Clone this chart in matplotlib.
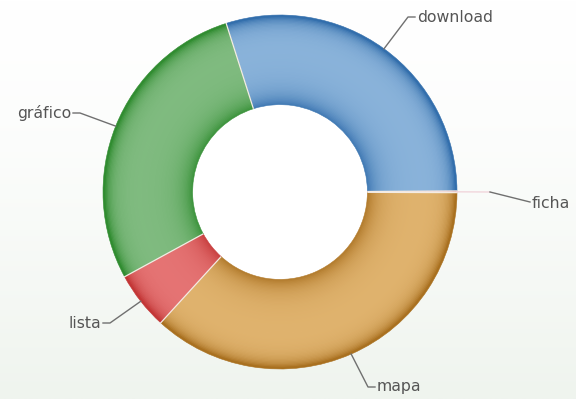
import numpy as np
import matplotlib
matplotlib.use('Agg')
import matplotlib.pyplot as plt
from matplotlib.colors import to_rgb
from matplotlib.patches import Circle

# Dados do gráfico de rosca
categorias = ['download', 'ficha', 'mapa', 'lista', 'gráfico']
valores = [29.9, 0.15, 36.8, 5.3, 28.1]
cores_claras = ['#8ab3da', '#f3c6d0', '#e0b36e', '#e57474', '#80bb80']
cores_escuras = ['#2a68a8', '#d08090', '#a46a18', '#c03030', '#288828']

W, H = 576, 399
cx, cy = 280, H - 192
R_ext, R_int = 177, 88
inicio = 107.7

fig = plt.figure(figsize=(W / 100, H / 100), dpi=100)
ax = fig.add_axes([0, 0, 1, 1])

# Fundo com leve degradê
grad = np.linspace(0, 1, 200).reshape(-1, 1)
topo = np.array(to_rgb('#ffffff'))
base = np.array(to_rgb('#eff4ee'))
img = topo + (base - topo) * grad[..., None] ** 1.5
ax.imshow(img, extent=[0, W, 0, H], aspect='auto', zorder=0)

# Miolo branco da rosca
ax.add_patch(Circle((cx, cy), R_int, facecolor='white', edgecolor='none',
                    zorder=1))

# Anéis finos para simular o sombreado da rosca
n = 70
for i in range(n):
    t = (i + 0.5) / n
    d = max(1.0 * np.exp(-(1 - t) / 0.08), 0.8 * np.exp(-t / 0.13))
    cores = [tuple(np.array(to_rgb(c1)) * (1 - d) + np.array(to_rgb(c2)) * d)
             for c1, c2 in zip(cores_claras, cores_escuras)]
    r_out = R_int + (R_ext - R_int) * (i + 1) / n
    wedges, _ = ax.pie(valores, colors=cores, startangle=inicio,
                       counterclock=False, center=(cx, cy), radius=r_out,
                       wedgeprops=dict(width=(R_ext - R_int) / n + 0.6,
                                       linewidth=0.4), frame=True)
    for a in wedges:
        a.set_edgecolor(a.get_facecolor())

# Linhas separadoras entre as fatias (apenas radiais)
for w in wedges:
    th = np.deg2rad(w.theta1)
    ax.plot([cx + R_int * np.cos(th), cx + R_ext * np.cos(th)],
            [cy + R_int * np.sin(th), cy + R_ext * np.sin(th)],
            color='#f4ece4', lw=0.9, zorder=4)

# Rótulos com linhas de ligação
ajustes = {
    'download': ((408, 17), 417, 'left'),
    'ficha': ((490, 192), 532, 'left'),
    'mapa': ((368, 387), 377, 'left'),
    'lista': ((110, 323), 101, 'right'),
    'gráfico': ((80, 113), 71, 'right'),
}
for w, nome in zip(wedges, categorias):
    ang = np.deg2rad((w.theta1 + w.theta2) / 2)
    x0 = cx + R_ext * np.cos(ang)
    y0 = cy + R_ext * np.sin(ang)
    (ex, ey), tx, ha = ajustes[nome]
    ey = H - ey
    if nome == 'ficha':
        ax.plot([x0, ex], [y0, ey], color='#f1d6dc', lw=1, zorder=5)
        ax.plot([ex, tx - 2], [ey, ey - 10], color='#707070', lw=1, zorder=5)
        ty = ey - 11
    else:
        ax.plot([x0, ex, tx + (-2 if ha == 'left' else 2)], [y0, ey, ey],
                color='#707070', lw=1, zorder=5)
        ty = ey
    ax.text(tx, ty, nome, ha=ha, va='center', fontsize=11.3,
            color='#555555', zorder=6)

ax.set_xlim(0, W)
ax.set_ylim(0, H)
ax.set_aspect('auto')
ax.axis('off')

fig.savefig('out.png', dpi=100)
